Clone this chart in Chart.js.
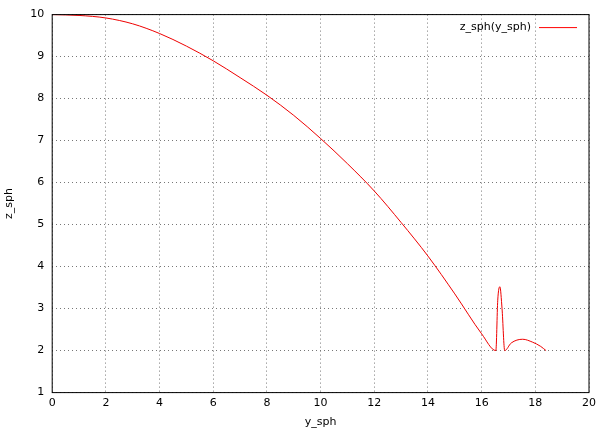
<!DOCTYPE html>
<html><head>
<script src="https://cdn.jsdelivr.net/npm/chart.js@4"></script>
<style>body{margin:0;background:#fff}#w{width:600px;height:430px}</style>
</head><body><div id="w"><canvas id="c"></canvas></div>
<script>
const ySph = [0, 1, 2, 3, 4, 5, 6, 7, 8, 9, 10, 11, 12, 13, 14, 15, 16, 16.53, 16.6, 16.68, 16.76, 16.86, 17.1, 17.53, 17.9, 18.2, 18.4];
const zSph = [10, 9.98, 9.92, 9.78, 9.55, 9.25, 8.9, 8.5, 8.08, 7.6, 7.05, 6.45, 5.8, 5.05, 4.25, 3.35, 2.4, 2.0, 3.2, 3.52, 3.0, 2.0, 2.18, 2.27, 2.2, 2.1, 2.0];
const xTicks = [0, 2, 4, 6, 8, 10, 12, 14, 16, 18, 20];
const yTicks = [1, 2, 3, 4, 5, 6, 7, 8, 9, 10];
const seriesName = 'z_sph(y_sph)';

const legendPlugin = {
  id: 'gpLegend',
  afterDraw(chart) {
    const ctx = chart.ctx, a = chart.chartArea;
    ctx.save();
    ctx.font = '11px "DejaVu Sans"';
    ctx.fillStyle = '#000';
    ctx.textAlign = 'right';
    ctx.textBaseline = 'middle';
    ctx.fillText(seriesName, a.right - 58, a.top + 13);
    ctx.strokeStyle = '#ff0000';
    ctx.lineWidth = 1;
    ctx.beginPath();
    ctx.moveTo(a.right - 50, a.top + 13);
    ctx.lineTo(a.right - 12, a.top + 13);
    ctx.stroke();
    ctx.strokeStyle = '#000';
    ctx.strokeRect(a.left, a.top, a.right - a.left, a.bottom - a.top);
    ctx.restore();
  }
};

const grid = { color: '#777', lineWidth: 1, drawTicks: false };
const border = { display: false, dash: [1, 3] };
new Chart(document.getElementById('c'), {
  type: 'scatter',
  data: { datasets: [{
    label: seriesName,
    data: ySph.map((v, i) => ({ x: v, y: zSph[i] })),
    showLine: true, borderColor: '#ee0000', borderWidth: 1, pointRadius: 0,
    cubicInterpolationMode: 'monotone'
  }] },
  options: {
    animation: false, responsive: true, maintainAspectRatio: false,
    layout: { padding: { top: 7, right: 5, bottom: 0, left: 3 } },
    plugins: { legend: { display: false }, tooltip: { enabled: false } },
    scales: {
      x: { type: 'linear', min: 0, max: 20,
        afterBuildTicks: s => { s.ticks = xTicks.map(v => ({ value: v })); },
        grid: grid, border: border,
        ticks: { color: '#000', font: { family: 'DejaVu Sans', size: 11 }, padding: 4 },
        title: { display: true, text: 'y_sph', color: '#000', font: { family: 'DejaVu Sans', size: 11 }, padding: { top: 2, bottom: 1 } } },
      y: { min: 1, max: 10,
        afterBuildTicks: s => { s.ticks = yTicks.map(v => ({ value: v })); },
        grid: grid, border: border,
        ticks: { color: '#000', font: { family: 'DejaVu Sans', size: 11 }, padding: 8 },
        title: { display: true, text: 'z_sph', color: '#000', font: { family: 'DejaVu Sans', size: 11 }, padding: { top: 0, bottom: 6 } } }
    }
  },
  plugins: [legendPlugin]
});
</script></body></html>
